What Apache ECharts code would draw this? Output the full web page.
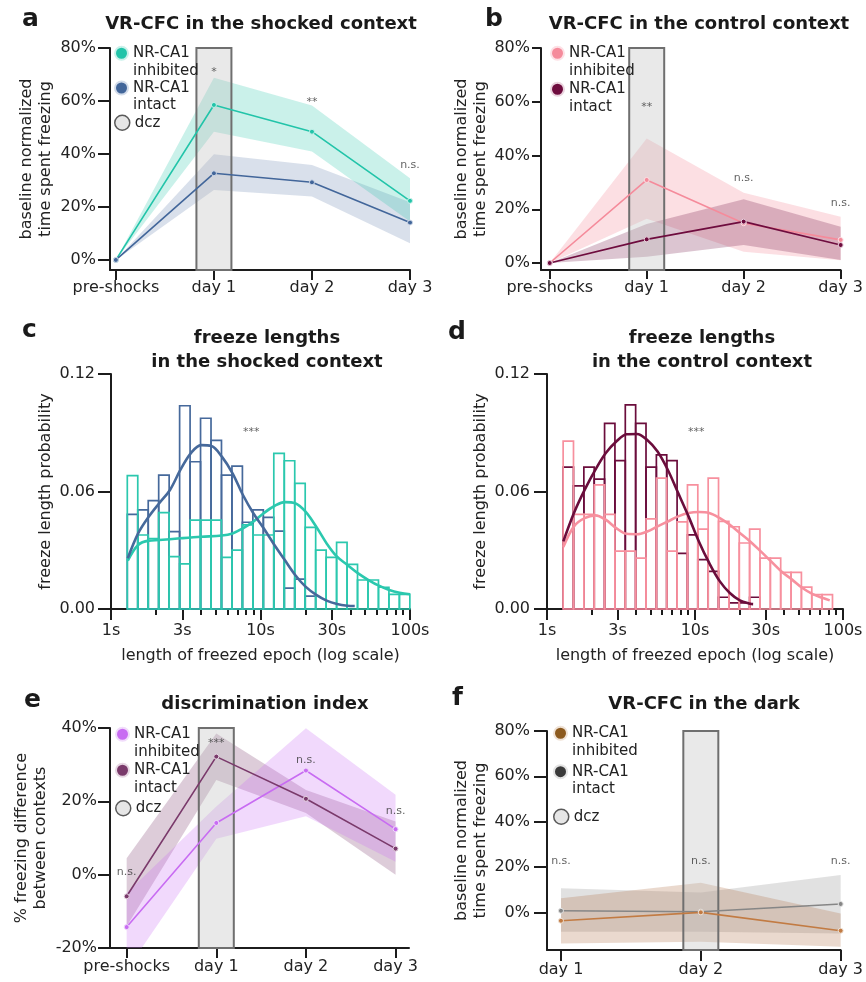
<!DOCTYPE html>
<html><head><meta charset="utf-8">
<script src="https://cdn.jsdelivr.net/npm/echarts@6/dist/echarts.min.js"></script>
<style>html,body{margin:0;padding:0;background:#fff}#chart{width:866px;height:982px}</style>
</head><body><div id="chart"></div>
<script>
// ================= DATA =================
const timepoints = ['pre-shocks', 'day 1', 'day 2', 'day 3'];
const darkDays = ['day 1', 'day 2', 'day 3'];
const tpIdx = [0, 1, 2, 3];
const darkIdx = [0, 1, 2];

// a: shocked context (% baseline-normalized freezing)
const shockInhMean = [0, 58.5, 48.4, 22.3];
const shockInhLo   = [0, 48.4, 40.9, 14.5];
const shockInhHi   = [0, 68.8, 58.3, 30.8];
const shockIntMean = [0, 32.7, 29.3, 14.1];
const shockIntLo   = [0, 26.4, 23.9, 6.3];
const shockIntHi   = [0, 39.9, 35.8, 21.8];

// b: control context
const ctrlInhMean = [0, 30.9, 14.8, 8.6];
const ctrlInhLo   = [0, 16.5, 4.2, 1.0];
const ctrlInhHi   = [0, 46.3, 26.1, 17.2];
const ctrlIntMean = [0, 8.8, 15.4, 6.7];
const ctrlIntLo   = [0, 2.3, 6.7, 1.1];
const ctrlIntHi   = [0, 14.5, 23.7, 13.5];

// c/d: freeze length histograms (log-spaced bins)
const BIN_LOG_START = 0.109, BIN_LOG_WIDTH = 0.07;
const shockInhHist = [0.0681,0.0378,0.0360,0.0492,0.0267,0.0230,0.0454,0.0454,0.0454,0.0264,0.0301,0.0430,0.0378,0.0378,0.0795,0.0757,0.0642,0.0417,0.0301,0.0264,0.0340,0.0228,0.0148,0.0148,0.0111,0.0075,0.0075];
const shockIntHist = [0.0483,0.0506,0.0553,0.0684,0.0395,0.1038,0.0752,0.0974,0.0861,0.0684,0.0730,0.0443,0.0506,0.0468,0.0398,0.0107,0.0153,0.0066,0,0,0,0,0,0,0,0,0];
const ctrlInhHist  = [0.0857,0.0483,0.0483,0.0634,0.0483,0.0296,0.0296,0.0260,0.0460,0.0668,0.0296,0.0445,0.0634,0.0408,0.0668,0.0447,0.0420,0.0337,0.0408,0.0260,0.0260,0.0187,0.0187,0.0112,0.0073,0.0073];
const ctrlIntHist  = [0.0724,0.0629,0.0724,0.0663,0.0948,0.0758,0.1042,0.0948,0.0724,0.0787,0.0758,0.0284,0.0379,0.0252,0.0192,0.0060,0.0031,0.0031,0.0060,0,0,0,0,0,0,0];

// KDE curves (seconds, probability)
const shockInhKdeX = [1.295,1.519,1.792,2.102,2.910,4.006,5.513,6.503,7.630,8.954,10.50,12.39,14.54,17.06,20.01,23.60,27.70,32.50,38.13,44.98,52.77,61.90,72.62,85.23,100];
const shockInhKdeY = [0.0247,0.0327,0.0349,0.0352,0.0361,0.0369,0.0375,0.0386,0.0412,0.0446,0.0489,0.0526,0.0546,0.0540,0.0497,0.0420,0.0335,0.0267,0.0225,0.0182,0.0148,0.0119,0.0097,0.0083,0.0075];
const shockIntKdeX = [1.295,1.519,1.792,2.102,2.480,2.910,3.414,4.006,4.699,5.513,6.503,7.630,8.954,10.50,12.39,14.54,17.06,20.01,23.60,27.70,32.50,38.13,42.7];
const shockIntKdeY = [0.0259,0.0386,0.0472,0.0540,0.0608,0.0710,0.0795,0.0837,0.0832,0.0778,0.0693,0.0582,0.0489,0.0412,0.0327,0.0250,0.0174,0.0114,0.0072,0.0043,0.0026,0.0017,0.0015];
const ctrlInhKdeX = [1.289,1.521,1.796,2.120,2.489,2.938,3.450,4.051,4.756,5.585,6.557,7.700,9.041,10.62,12.47,14.72,17.19,20.08,23.58,27.83,32.68,38.37,45.29,53.18,62.44,73.33,81.34];
const ctrlInhKdeY = [0.0316,0.0422,0.0464,0.0478,0.0456,0.0413,0.0384,0.0382,0.0396,0.0422,0.0447,0.0473,0.0490,0.0495,0.0490,0.0464,0.0430,0.0388,0.0345,0.0294,0.0243,0.0192,0.0150,0.0107,0.0076,0.0056,0.0044];
const ctrlIntKdeX = [1.289,1.521,1.796,2.120,2.489,2.938,3.450,4.051,4.756,5.585,6.557,7.700,9.041,10.62,12.47,14.72,17.19,20.08,23.58,24.70];
const ctrlIntKdeY = [0.0345,0.0490,0.0608,0.0710,0.0795,0.0855,0.0892,0.0894,0.0863,0.0804,0.0710,0.0592,0.0473,0.0345,0.0235,0.0141,0.0082,0.0044,0.0027,0.0025];

// e: discrimination index (%)
const discInhMean = [-14.3, 14.1, 28.4, 12.4];
const discInhLo   = [-26.0, 9.8, 15.9, 3.5];
const discInhHi   = [-5.0, 18.6, 39.9, 21.8];
const discIntMean = [-5.9, 32.2, 20.7, 7.1];
const discIntLo   = [-14.1, 25.8, 16.8, 0.0];
const discIntHi   = [4.5, 38.5, 23.1, 14.5];

// f: dark (%)
const darkInhMean = [-3.7, 0.0, -8.1];
const darkInhLo   = [-13.7, -13.0, -15.2];
const darkInhHi   = [6.2, 13.1, -0.5];
const darkIntMean = [0.7, 0.3, 3.7];
const darkIntLo   = [-8.5, -8.5, -9.3];
const darkIntHi   = [10.6, 8.8, 16.5];

// dcz application day (index on the panel's x axis)
const dczDayA = 1, dczDayB = 1, dczDayE = 1, dczDayF = 1;

// significance annotations [x, y, text]
const annA = [[1, 71, '*'], [2, 59.6, '**'], [3, 35.8, 'n.s.']];
const annB = [[1, 58, '**'], [2, 31.6, 'n.s.'], [3, 22.3, 'n.s.']];
const annC = [[8.68, 0.0905, '***']];
const annD = [[10.2, 0.0905, '***']];
const annE = [[0, 0.6, 'n.s.'], [1, 36, '***'], [2, 31.3, 'n.s.'], [3, 17.2, 'n.s.']];
const annF = [[0, 22.6, 'n.s.'], [1, 22.6, 'n.s.'], [2, 22.6, 'n.s.']];

// tick labels
const pctTicks = [0, 20, 40, 60, 80];
const discTicks = [-20, 0, 20, 40];
const probTicks = [0, 0.06, 0.12];
const secMajor = [1, 3, 10, 30, 100];
const secMinor = [2, 4, 5, 6, 7, 8, 9, 20, 40, 50, 60, 70, 80, 90];

// ================= STYLE =================
const FONT = 'DejaVu Sans';
const INK = '#1c1c1c';
const COL = {
  teal: '#22c4a9', tealBand: 'rgba(34,196,169,0.24)', tealHalo: '#c9f1ea',
  blue: '#42669a', blueBand: 'rgba(66,102,154,0.2)', blueHalo: '#d3dcea',
  pink: '#f58b9b', pinkBand: 'rgba(245,139,155,0.28)', pinkHalo: '#fde0e5',
  maroon: '#6e0c3e', maroonBand: 'rgba(110,12,62,0.24)', maroonHalo: '#ead3de',
  violet: '#c86cf2', violetBand: 'rgba(200,108,242,0.26)', violetHalo: '#f1dcfb',
  plum: '#7a3a6b', plumBand: 'rgba(122,58,107,0.26)', plumHalo: '#e6d6e2',
  brown: '#c27b43', brownBand: 'rgba(180,120,80,0.28)', brownLegend: '#8c5a1e', brownHalo: '#efe2d6',
  gray: '#868686', grayBand: 'rgba(130,130,130,0.24)', grayLegend: '#3a3a3a', grayHalo: '#e4e4e4',
  hTeal: '#2bc8ae', hBlue: '#46699b', hPink: '#f7909e', hMaroon: '#6b0d3c'
};
const LEGEND_TEXT = {
  a_inh: '\nNR-CA1\ninhibited', a_int: '\nNR-CA1\nintact', a_dcz: 'dcz',
  b_inh: '\nNR-CA1\ninhibited', b_int: '\nNR-CA1\nintact',
  e_inh: '\nNR-CA1\ninhibited', e_int: '\nNR-CA1\nintact', e_dcz: 'dcz',
  f_inh: '\nNR-CA1\ninhibited', f_int: '\nNR-CA1\nintact', f_dcz: 'dcz'
};
const DCZ_HALF_PX = 17.5;

// ================= HELPERS =================
function binEdge(i) { return Math.pow(10, BIN_LOG_START + i * BIN_LOG_WIDTH); }

function bandSeries(name, xi, yi, xs, lo, hi, fill, z) {
  const data = xs.map((x, i) => [x, lo[i], hi[i]]);
  return {
    type: 'custom', name, xAxisIndex: xi, yAxisIndex: yi, clip: true, silent: true, z: z || 1,
    data, encode: { x: 0, y: 1 },
    renderItem: (params, api) => {
      if (params.dataIndex !== 0) return null;
      const top = data.map(d => api.coord([d[0], d[2]]));
      const bot = data.map(d => api.coord([d[0], d[1]])).reverse();
      return { type: 'polygon', shape: { points: top.concat(bot) }, style: { fill, stroke: null } };
    }
  };
}
function lineSeries(name, xi, yi, xs, ys, color, halo) {
  return {
    type: 'line', name, xAxisIndex: xi, yAxisIndex: yi, z: 4, silent: true,
    data: xs.map((x, i) => [x, ys[i]]),
    symbol: 'circle', symbolSize: 5, showSymbol: true,
    lineStyle: { color, width: 1.6 },
    itemStyle: { color, borderColor: halo, borderWidth: 1 }
  };
}
function dczSeries(name, xi, yi, day) {
  return {
    type: 'custom', name, xAxisIndex: xi, yAxisIndex: yi, silent: true, z: 3,
    data: [[day, 0]],
    itemStyle: { color: '#e6e6e6', borderColor: '#666', borderWidth: 1.5 },
    renderItem: (params, api) => {
      const c = api.coord([api.value(0), api.value(1)]);
      const cs = params.coordSys;
      return { type: 'rect', shape: { x: c[0] - DCZ_HALF_PX, y: cs.y, width: 2 * DCZ_HALF_PX, height: cs.height },
        style: { fill: 'rgba(190,190,190,0.34)', stroke: '#6f6f6f', lineWidth: 2 } };
    }
  };
}
function histSeries(name, xi, yi, heights, color, z) {
  return {
    type: 'custom', name, xAxisIndex: xi, yAxisIndex: yi, silent: true, z,
    data: heights.map((h, i) => [binEdge(i), binEdge(i + 1), h]),
    encode: { x: [0, 1], y: 2 },
    renderItem: (params, api) => {
      const h = api.value(2);
      if (!(h > 0)) return null;
      const p0 = api.coord([api.value(0), 0]);
      const p1 = api.coord([api.value(1), h]);
      return { type: 'rect', shape: { x: p0[0], y: p1[1], width: p1[0] - p0[0], height: p0[1] - p1[1] },
        style: { fill: 'none', stroke: color, lineWidth: 1.7 } };
    }
  };
}
function kdeSeries(name, xi, yi, xs, ys, color, z) {
  return {
    type: 'line', name, xAxisIndex: xi, yAxisIndex: yi, silent: true, z,
    data: xs.map((x, i) => [x, ys[i]]), showSymbol: false, symbol: 'none', smooth: 0.35,
    lineStyle: { color, width: 2.6 }
  };
}
function annotSeries(xi, yi, items) {
  return {
    type: 'scatter', xAxisIndex: xi, yAxisIndex: yi, silent: true, z: 6,
    symbolSize: 1, itemStyle: { color: 'rgba(0,0,0,0)' },
    data: items.map(a => ({ value: [a[0], a[1]], name: a[2] })),
    label: { show: true, position: 'inside', formatter: '{b}', fontSize: 11, color: '#3a3a3a', fontFamily: FONT }
  };
}
function legendMain(left, top, gap, items) {
  return {
    left, top, orient: 'vertical', itemGap: gap, padding: 0, icon: 'circle',
    itemWidth: 13, itemHeight: 13, selectedMode: false,
    textStyle: { fontSize: 15, lineHeight: 17.5, color: '#222', fontFamily: FONT },
    formatter: n => LEGEND_TEXT[n],
    data: items.map(it => ({ name: it[0], itemStyle: { color: it[1], borderColor: it[2], borderWidth: 2 } }))
  };
}
function legendDcz(left, top, name) {
  return {
    left, top, orient: 'vertical', padding: 0, icon: 'circle', itemWidth: 15, itemHeight: 15, selectedMode: false,
    textStyle: { fontSize: 15, lineHeight: 17.5, color: '#222', fontFamily: FONT },
    formatter: n => LEGEND_TEXT[n],
    data: [{ name, itemStyle: { color: '#e6e6e6', borderColor: '#5a5a5a', borderWidth: 1.5 } }]
  };
}
const axLine = { show: true, onZero: false, lineStyle: { color: INK, width: 2 } };
function catXAxis(grid, min, max, idx, names, tickLen, margin) {
  return {
    gridIndex: grid, type: 'value', min, max, axisLine: axLine,
    axisTick: { show: true, customValues: idx, length: tickLen, lineStyle: { color: INK, width: 2 } },
    axisLabel: { show: true, customValues: idx, margin, fontSize: 16, color: '#222', fontFamily: FONT,
      formatter: v => names[Math.round(v)] },
    splitLine: { show: false }
  };
}
function logXAxis(grid, major, name) {
  if (major) {
    return {
      gridIndex: grid, type: 'log', logBase: 10, min: 1, max: 100, axisLine: axLine,
      axisTick: { show: true, customValues: secMajor, length: 11, lineStyle: { color: INK, width: 2 } },
      axisLabel: { show: true, customValues: secMajor, margin: 14, fontSize: 16, color: '#222', fontFamily: FONT,
        formatter: v => Math.round(v) + 's' },
      splitLine: { show: false }, minorTick: { show: false },
      name, nameLocation: 'middle', nameGap: 39,
      nameTextStyle: { fontSize: 16, color: '#222', fontFamily: FONT }
    };
  }
  return {
    gridIndex: grid, type: 'log', logBase: 10, min: 1, max: 100, position: 'bottom', offset: 0,
    axisLine: { show: false, onZero: false },
    axisTick: { show: true, customValues: secMinor, length: 6, lineStyle: { color: INK, width: 2 } },
    axisLabel: { show: false }, splitLine: { show: false }
  };
}
function yAxisCfg(grid, min, max, ticks, fmt, name, nameGap, tickLen, margin) {
  return {
    gridIndex: grid, type: 'value', min, max, axisLine: axLine,
    axisTick: { show: true, customValues: ticks, length: tickLen, lineStyle: { color: INK, width: 2 } },
    axisLabel: { show: true, customValues: ticks, margin, fontSize: 16, color: '#222', fontFamily: FONT, formatter: fmt },
    splitLine: { show: false },
    name, nameLocation: 'middle', nameGap,
    nameTextStyle: { fontSize: 16, lineHeight: 19, color: '#222', fontFamily: FONT }
  };
}
const pctFmt = v => Math.round(v) + '%';
const probFmt = v => v.toFixed(2);
function titleCfg(text, x, top, size, weight, lh) {
  return { text, left: x, top, padding: 0, textAlign: size > 20 ? 'left' : 'center',
    textStyle: { fontSize: size, fontWeight: weight, color: '#1a1a1a', fontFamily: FONT, lineHeight: lh } };
}

// ================= OPTION =================
const option = {
  animation: false,
  backgroundColor: '#ffffff',
  textStyle: { fontFamily: FONT },
  title: [
    titleCfg('a', 22, 7, 25, 'bold', 25),
    titleCfg('b', 485, 7, 25, 'bold', 25),
    titleCfg('c', 22, 318, 25, 'bold', 25),
    titleCfg('d', 448, 320, 25, 'bold', 25),
    titleCfg('e', 24, 688, 25, 'bold', 25),
    titleCfg('f', 452, 686, 25, 'bold', 25),
    titleCfg('VR-CFC in the shocked context', 261, 14, 18, 'bold', 20),
    titleCfg('VR-CFC in the control context', 699, 14, 18, 'bold', 20),
    titleCfg('freeze lengths\nin the shocked context', 267, 326, 18, 'bold', 24),
    titleCfg('freeze lengths\nin the control context', 702, 326, 18, 'bold', 24),
    titleCfg('discrimination index', 265, 694, 18, 'bold', 20),
    titleCfg('VR-CFC in the dark', 704, 694, 18, 'bold', 20)
  ],
  legend: [
    legendMain(114, 27, -17.75, [['a_inh', COL.teal, COL.tealHalo], ['a_int', COL.blue, COL.blueHalo]]),
    legendDcz(114, 114, 'a_dcz'),
    legendMain(550, 27, -16.5, [['b_inh', COL.pink, COL.pinkHalo], ['b_int', COL.maroon, COL.maroonHalo]]),
    legendMain(115, 708, -16.5, [['e_inh', COL.violet, COL.violetHalo], ['e_int', COL.plum, COL.plumHalo]]),
    legendDcz(115, 799.5, 'e_dcz'),
    legendMain(553, 707, -14.1, [['f_inh', COL.brownLegend, COL.brownHalo], ['f_int', COL.grayLegend, COL.grayHalo]]),
    legendDcz(553, 808, 'f_dcz')
  ],
  grid: [
    { left: 110, top: 48, width: 300, height: 222 },
    { left: 541, top: 48, width: 304, height: 222 },
    { left: 111, top: 374, width: 299, height: 235 },
    { left: 547, top: 374, width: 296, height: 235 },
    { left: 110, top: 728, width: 299, height: 220 },
    { left: 547, top: 731, width: 299, height: 219 }
  ],
  xAxis: [
    catXAxis(0, -0.06, 3, tpIdx, timepoints, 10, 10),
    catXAxis(1, -0.09, 3, tpIdx, timepoints, 9, 10),
    logXAxis(2, true, 'length of freezed epoch (log scale)'),
    logXAxis(2, false),
    logXAxis(3, true, 'length of freezed epoch (log scale)'),
    logXAxis(3, false),
    catXAxis(4, -0.186, 3.15, tpIdx, timepoints, 10, 11),
    catXAxis(5, -0.1, 2, darkIdx, darkDays, 11, 12)
  ],
  yAxis: [
    yAxisCfg(0, -3.8, 80, pctTicks, pctFmt, 'baseline normalized\ntime spent freezing', 55, 12, 14),
    yAxisCfg(1, -2.6, 80, pctTicks, pctFmt, 'baseline normalized\ntime spent freezing', 51, 9, 11),
    yAxisCfg(2, 0, 0.12, probTicks, probFmt, 'freeze length probability', 55, 13, 16),
    yAxisCfg(3, 0, 0.12, probTicks, probFmt, 'freeze length probability', 55, 13, 17),
    yAxisCfg(4, -20, 40, discTicks, pctFmt, '% freezing difference\nbetween contexts', 60, 12, 13),
    yAxisCfg(5, -16.6, 80, pctTicks, pctFmt, 'baseline normalized\ntime spent freezing', 57, 13, 17)
  ],
  series: [
    // a
    bandSeries('a_int_band', 0, 0, tpIdx, shockIntLo, shockIntHi, COL.blueBand, 1),
    bandSeries('a_inh_band', 0, 0, tpIdx, shockInhLo, shockInhHi, COL.tealBand, 2),
    dczSeries('a_dcz', 0, 0, dczDayA),
    lineSeries('a_inh', 0, 0, tpIdx, shockInhMean, COL.teal, COL.tealHalo),
    lineSeries('a_int', 0, 0, tpIdx, shockIntMean, COL.blue, COL.blueHalo),
    annotSeries(0, 0, annA),
    // b
    bandSeries('b_inh_band', 1, 1, tpIdx, ctrlInhLo, ctrlInhHi, COL.pinkBand, 1),
    bandSeries('b_int_band', 1, 1, tpIdx, ctrlIntLo, ctrlIntHi, COL.maroonBand, 2),
    dczSeries('b_dcz', 1, 1, dczDayB),
    lineSeries('b_inh', 1, 1, tpIdx, ctrlInhMean, COL.pink, COL.pinkHalo),
    lineSeries('b_int', 1, 1, tpIdx, ctrlIntMean, COL.maroon, COL.maroonHalo),
    annotSeries(1, 1, annB),
    // c
    histSeries('c_int_hist', 2, 2, shockIntHist, COL.hBlue, 1),
    histSeries('c_inh_hist', 2, 2, shockInhHist, COL.hTeal, 2),
    kdeSeries('c_inh_kde', 2, 2, shockInhKdeX, shockInhKdeY, COL.hTeal, 3),
    kdeSeries('c_int_kde', 2, 2, shockIntKdeX, shockIntKdeY, COL.hBlue, 4),
    annotSeries(2, 2, annC),
    // d
    histSeries('d_int_hist', 4, 3, ctrlIntHist, COL.hMaroon, 1),
    histSeries('d_inh_hist', 4, 3, ctrlInhHist, COL.hPink, 2),
    kdeSeries('d_inh_kde', 4, 3, ctrlInhKdeX, ctrlInhKdeY, COL.hPink, 3),
    kdeSeries('d_int_kde', 4, 3, ctrlIntKdeX, ctrlIntKdeY, COL.hMaroon, 4),
    annotSeries(4, 3, annD),
    // e
    bandSeries('e_int_band', 6, 4, tpIdx, discIntLo, discIntHi, COL.plumBand, 1),
    bandSeries('e_inh_band', 6, 4, tpIdx, discInhLo, discInhHi, COL.violetBand, 2),
    dczSeries('e_dcz', 6, 4, dczDayE),
    lineSeries('e_inh', 6, 4, tpIdx, discInhMean, COL.violet, COL.violetHalo),
    lineSeries('e_int', 6, 4, tpIdx, discIntMean, COL.plum, COL.plumHalo),
    annotSeries(6, 4, annE),
    // f
    bandSeries('f_int_band', 7, 5, darkIdx, darkIntLo, darkIntHi, COL.grayBand, 1),
    bandSeries('f_inh_band', 7, 5, darkIdx, darkInhLo, darkInhHi, COL.brownBand, 2),
    dczSeries('f_dcz', 7, 5, dczDayF),
    lineSeries('f_int', 7, 5, darkIdx, darkIntMean, COL.gray, COL.grayHalo),
    lineSeries('f_inh', 7, 5, darkIdx, darkInhMean, COL.brown, COL.brownHalo),
    annotSeries(7, 5, annF)
  ]
};
const chart = echarts.init(document.getElementById('chart'), null, { renderer: 'canvas' });
chart.setOption(option);
</script></body></html>
